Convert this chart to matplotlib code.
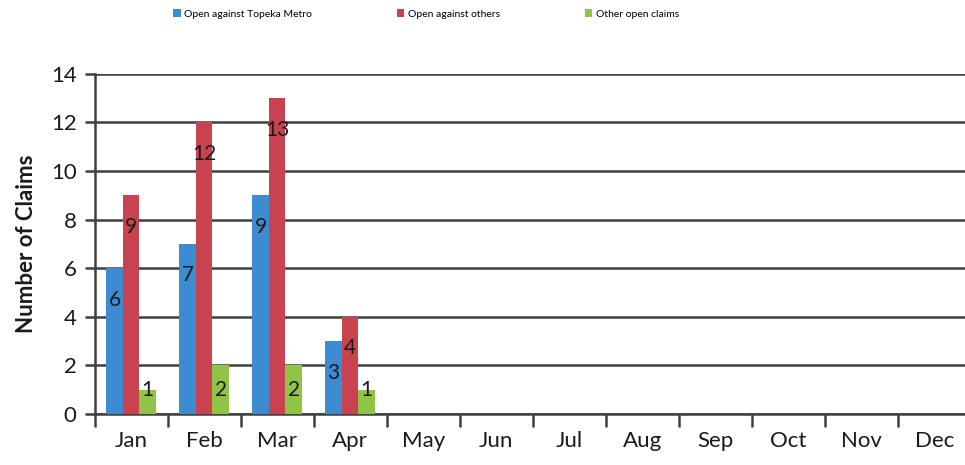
import numpy as np
import matplotlib.pyplot as plt

months = ['Jan', 'Feb', 'Mar', 'Apr', 'May', 'Jun', 'Jul', 'Aug', 'Sep', 'Oct', 'Nov', 'Dec']
topeka = [6, 7, 9, 3]
others = [9, 12, 13, 4]
other_open = [1, 2, 2, 1]
series_names = ['Open against Topeka Metro', 'Open against others', 'Other open claims']
colors = ['#3d8cd2', '#c8434f', '#8fc447']

plt.rcParams['font.family'] = ['Lato', 'DejaVu Sans']

fig = plt.figure(figsize=(9.65, 4.65), dpi=100)
ax = fig.add_axes([0.098, 0.110, 0.908, 0.731])

w = 0.226
x = np.arange(len(topeka))
for i, (vals, c, name) in enumerate(zip([topeka, others, other_open], colors, series_names)):
    xs = x + (i - 1) * w
    ax.bar(xs, vals, width=w, color=c, label=name, zorder=3)
    for xi, v in zip(xs, vals):
        ax.text(xi, max(v - 1.3, 1.0), str(v), ha='center', va='center',
                fontsize=15, color='#1a1a1a', zorder=4)

ax.set_xlim(-0.5, 11.5)
ax.set_ylim(0, 14)
ax.set_yticks(range(0, 15, 2))
ax.set_xticks(range(12))
ax.set_xticklabels(months)
ax.set_xticks(np.arange(-0.5, 12, 1), minor=True)
ax.tick_params(axis='x', which='major', length=0, labelsize=16, pad=12, colors='#1a1a1a')
ax.tick_params(axis='x', which='minor', length=9, width=1.8, color='#404040', direction='out')
ax.tick_params(axis='y', length=7, width=1.8, color='#404040', labelsize=16, pad=6, labelcolor='#1a1a1a')
ax.grid(axis='y', color='#404040', linewidth=1.8, zorder=1)
for s in ['top', 'right']:
    ax.spines[s].set_visible(False)
for s in ['left', 'bottom']:
    ax.spines[s].set_color('#404040')
    ax.spines[s].set_linewidth(1.8)
ax.set_ylabel('Number of Claims', fontsize=16, fontweight='bold', labelpad=10, color='#1a1a1a')

fig.legend(loc='upper left', bbox_to_anchor=(0.17, 1.0), ncol=3, frameon=False,
           fontsize=7.5, handlelength=0.7, handleheight=0.7, handletextpad=0.3,
           columnspacing=8.2)

fig.savefig('out.png', dpi=100)
